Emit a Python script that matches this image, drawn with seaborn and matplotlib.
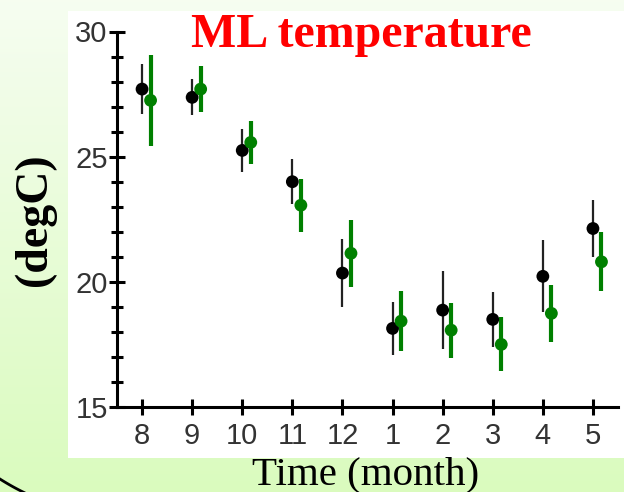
import numpy as np
import pandas as pd
import matplotlib
matplotlib.use("Agg")
import matplotlib.pyplot as plt
from matplotlib.patches import Rectangle
from matplotlib.lines import Line2D
import seaborn as sns

# Monthly mixed-layer temperature, two estimates with their spread
months = ["8", "9", "10", "11", "12", "1", "2", "3", "4", "5"]
black_mean = [27.7, 27.37, 25.25, 24.0, 20.35, 18.14, 18.87, 18.5, 20.22, 22.13]
black_err = [1.0, 0.72, 0.85, 0.9, 1.36, 1.06, 1.56, 1.11, 1.44, 1.13]
green_mean = [27.25, 27.7, 25.57, 23.06, 21.14, 18.43, 18.07, 17.5, 18.74, 20.8]
green_err = [1.82, 0.92, 0.87, 1.05, 1.35, 1.2, 1.1, 1.08, 1.14, 1.18]
yticks = [15, 20, 25, 30]

sns.set_style("white")
plt.rcParams["font.family"] = ["Liberation Sans", "DejaVu Sans"]

W, H, DPI = 624, 492, 100
fig = plt.figure(figsize=(W / DPI, H / DPI), dpi=DPI)

# soft green vertical gradient behind everything
bg = fig.add_axes([0, 0, 1, 1], zorder=-10)
grad = np.linspace(0, 1, 256)[:, None]
top = np.array([0.965, 0.993, 0.945])
bot = np.array([0.855, 0.985, 0.745])
img = top[None, None, :] * (1 - grad[..., None]) + bot[None, None, :] * grad[..., None]
bg.imshow(img, aspect="auto", extent=[0, 1, 0, 1])
bg.set_axis_off()

# white panel holding the plot
fig.patches.append(Rectangle((68 / W, (H - 458) / H), (W - 68) / W, (458 - 11) / H,
                             transform=fig.transFigure, facecolor="white",
                             edgecolor="none", zorder=-5))
# decorative curve in the lower-left corner (part of a large circle, in pixels)
theta = np.radians(np.linspace(232, 248, 60))
cx, cy, r = 134, 224, 250
fig.lines.append(Line2D((cx + r * np.cos(theta)) / W, (cy + r * np.sin(theta)) / H,
                        transform=fig.transFigure, color="black", lw=2.0, zorder=-4))

ax = fig.add_axes([117 / W, (H - 407) / H, (618 - 117) / W, (407 - 31.5) / H])
ax.patch.set_alpha(0)

pos = np.arange(len(months))
shift = 0.17
df = pd.DataFrame({
    "pos": np.concatenate([pos, pos + shift]),
    "temp": black_mean + green_mean,
    "series": ["a"] * len(months) + ["b"] * len(months),
})

ax.errorbar(pos, black_mean, yerr=black_err, fmt="none", ecolor="#222222",
            elinewidth=1.6, zorder=2)
ax.errorbar(pos + shift, green_mean, yerr=green_err, fmt="none", ecolor="#008000",
            elinewidth=3.0, zorder=2)
sns.scatterplot(data=df, x="pos", y="temp", hue="series",
                palette={"a": "black", "b": "#008000"}, s=85,
                edgecolor="none", legend=False, ax=ax, zorder=3)

ax.set_xlim(-0.5, 9.5)
ax.set_ylim(15, 30)
ax.set_xticks(pos)
ax.set_xticklabels(months)
ax.set_yticks(yticks)
ax.set_yticks(np.arange(15, 31, 1), minor=True)
ax.set_xlabel("")
ax.set_ylabel("")

for s in ["top", "right"]:
    ax.spines[s].set_visible(False)
for s in ["left", "bottom"]:
    ax.spines[s].set_linewidth(2.2)
    ax.spines[s].set_color("black")

ax.tick_params(axis="both", which="major", direction="inout", length=11.5, width=2.2,
               color="black", labelsize=21, labelcolor="#333333",
               bottom=True, left=True)
ax.tick_params(axis="y", which="minor", direction="inout", length=8, width=2.2,
               color="black", left=True)
ax.tick_params(axis="y", which="major", pad=1)
ax.tick_params(axis="x", which="major", pad=5)

serif = ["Liberation Serif", "DejaVu Serif"]
fig.text(361 / W, (H - 47) / H, "ML temperature", color="red", fontsize=34.5,
         fontweight="bold", family=serif, ha="center", va="baseline")
fig.text(35 / W, (H - 220) / H, "(degC)", color="black", fontsize=33,
         fontweight="bold", family=serif, rotation=90, ha="center", va="center")
fig.text(366 / W, (H - 484) / H, "Time (month)", color="black", fontsize=29.5,
         family=serif, ha="center", va="baseline")

fig.savefig("out.png", dpi=DPI)
